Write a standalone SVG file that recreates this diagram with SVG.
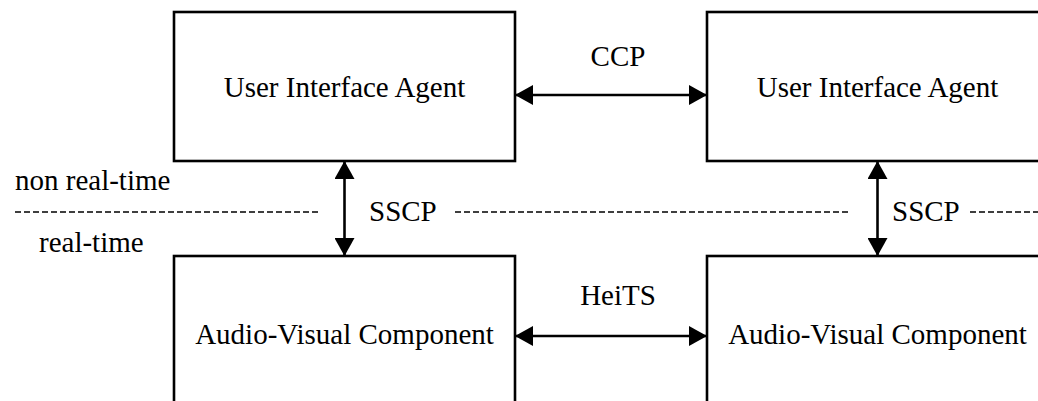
<svg xmlns="http://www.w3.org/2000/svg" width="1038" height="401" viewBox="0 0 1038 401">
  <style>
    .box { fill: #ffffff; stroke: #000000; stroke-width: 2.6; }
    .lbl { font-family: "Liberation Serif", "Times New Roman", serif; font-size: 29px; fill: #000000; }
    .mid { text-anchor: middle; }
    .link { stroke: #000000; stroke-width: 2.6; fill: none; marker-start: url(#head); marker-end: url(#head); }
    .divider { stroke: #000000; stroke-width: 1.6; stroke-dasharray: 6 3; fill: none; }
  </style>
  <defs>
    <marker id="head" viewBox="0 0 18 20" refX="18" refY="10" markerWidth="18" markerHeight="20" markerUnits="userSpaceOnUse" orient="auto-start-reverse">
      <path d="M0,0 L18,10 L0,20 Z" fill="#000000"/>
    </marker>
  </defs>
  <rect width="1038" height="401" fill="#ffffff"/>

  <!-- boundary between the non real-time and real-time layers -->
  <g id="layer-boundary">
    <line class="divider" x1="15" y1="212" x2="320" y2="212"/>
    <line class="divider" x1="455" y1="212" x2="850" y2="212"/>
    <line class="divider" x1="970" y1="212" x2="1038" y2="212"/>
    <text class="lbl" x="15" y="190">non real-time</text>
    <text class="lbl" x="39" y="252">real-time</text>
  </g>

  <g id="uia-left">
    <rect class="box" x="174" y="12" width="341" height="149"/>
    <text class="lbl mid" x="344.5" y="97">User Interface Agent</text>
  </g>
  <g id="uia-right">
    <rect class="box" x="707" y="12" width="341" height="149"/>
    <text class="lbl mid" x="877.5" y="97">User Interface Agent</text>
  </g>
  <g id="avc-left">
    <rect class="box" x="174" y="256" width="341" height="160"/>
    <text class="lbl mid" x="344.5" y="344">Audio-Visual Component</text>
  </g>
  <g id="avc-right">
    <rect class="box" x="707" y="256" width="341" height="160"/>
    <text class="lbl mid" x="877.5" y="344">Audio-Visual Component</text>
  </g>

  <g id="connectors">
    <line class="link" x1="515" y1="95" x2="707" y2="95"/>
    <text class="lbl mid" x="618" y="66">CCP</text>
    <line class="link" x1="515" y1="336" x2="707" y2="336"/>
    <text class="lbl mid" x="618" y="305">HeiTS</text>
    <line class="link" x1="344.5" y1="161" x2="344.5" y2="256"/>
    <text class="lbl" x="369" y="221">SSCP</text>
    <line class="link" x1="877.5" y1="161" x2="877.5" y2="256"/>
    <text class="lbl" x="892" y="221">SSCP</text>
  </g>
</svg>
